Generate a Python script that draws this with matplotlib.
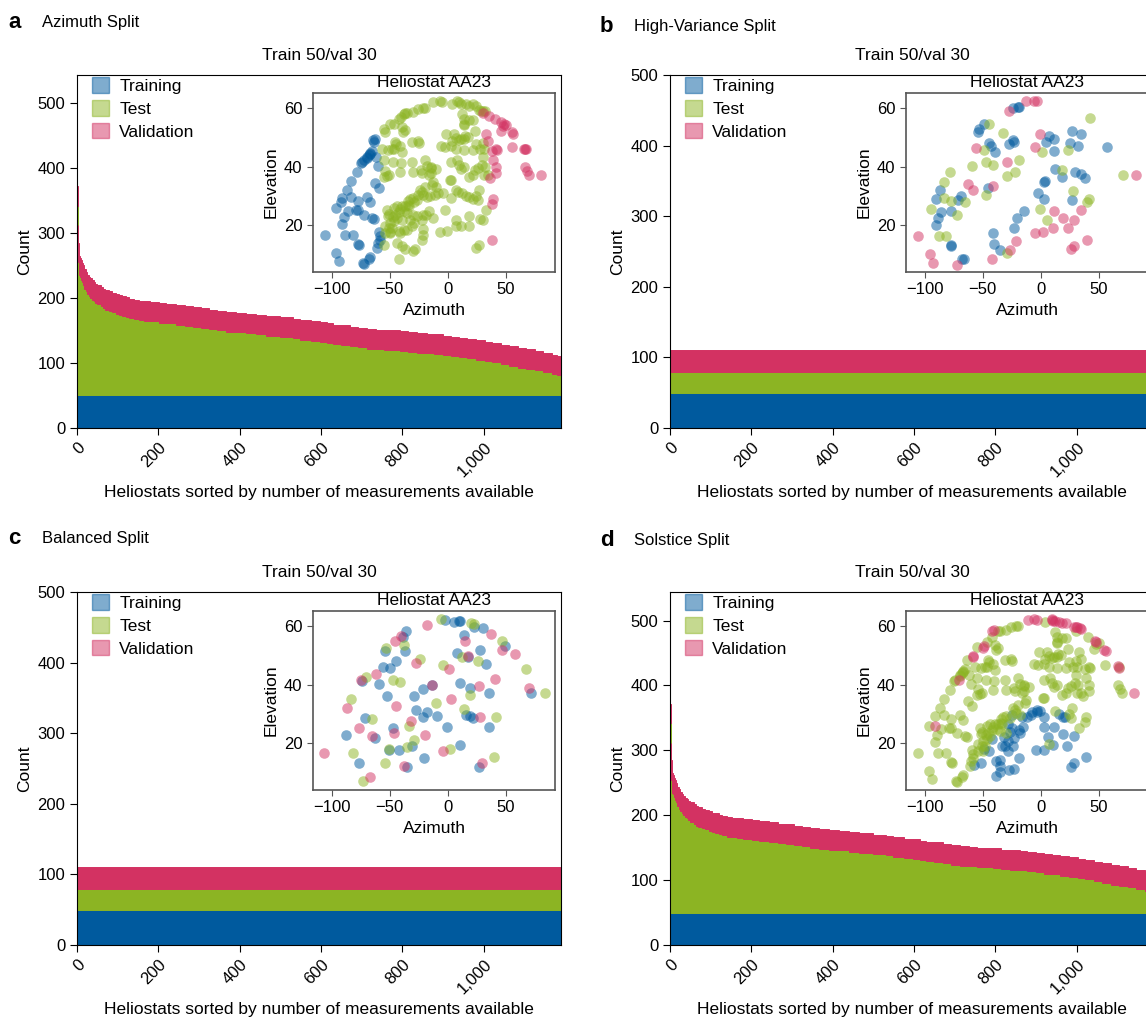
import numpy as np
import matplotlib
matplotlib.use('Agg')
import matplotlib.pyplot as plt
from matplotlib.patches import Patch
from matplotlib.ticker import FuncFormatter

plt.rcParams['font.family'] = ['Liberation Sans', 'DejaVu Sans']

BLUE = '#005a9e'
GREEN = '#8cb423'
RED = '#d33262'

n_heliostats = 1190
train_n = 50
val_n = 30

# sorted number of measurements per heliostat (start index of a step, total count)
step_start = [0, 1, 2, 3, 4, 6, 8, 10, 12, 14, 16, 18, 21, 25, 29, 33, 37, 41, 45, 50,
              58, 64, 70, 78, 86, 95, 103, 111, 120, 128, 140, 152, 165, 180, 202, 220, 243, 265, 284, 305,
              325, 345, 366, 390, 416, 440, 465, 500, 531, 548, 575, 597, 615, 630, 650, 672, 690, 713, 735, 754,
              795, 815, 837, 860, 878, 900, 919, 940, 960, 980, 1002, 1020, 1043, 1063, 1084, 1105, 1125, 1145, 1167, 1180]
step_total = [530, 372, 312, 285, 270, 265, 262, 258, 254, 250, 247, 244, 240, 236, 233, 230, 227, 225, 222, 220,
              217, 214, 212, 210, 208, 206, 204, 203, 201, 199, 197, 196, 195, 194, 192, 191, 189, 187, 186, 184,
              182, 180, 178, 177, 176, 174, 172, 170, 168, 166, 164, 163, 161, 159, 158, 156, 154, 152, 151, 150,
              149, 147, 146, 145, 144, 142, 140, 139, 137, 135, 133, 131, 128, 126, 123, 121, 119, 116, 113, 111]
# high-variance / balanced splits keep only 50 + 30 + 30 per heliostat
fixed_total = [110]

# inset points (azimuth, elevation) of heliostat AA23
a_train = [(-106, 16.5), (-96, 10.6), (-93.6, 7.6), (-96, 25.9), (-92, 27.8), (-90.7, 29.3), (-87, 32.1),
           (-83.6, 35.1), (-78.5, 38.3), (-75, 41.4), (-72, 42.3), (-69.4, 43.4), (-67, 44.3), (-65.7, 45.3),
           (-62.3, 49.4), (-61.8, 43.4), (-60, 40.2), (-91, 20.5), (-89, 22.8), (-86, 24.7), (-83.6, 29.6),
           (-77, 28.4), (-70, 29.8), (-66.6, 28.1), (-77, 25.3), (-72, 23.6), (-65, 22.4), (-63.7, 22.1),
           (-62.9, 34.4), (-59.5, 32.7), (-88.7, 16.5), (-82, 16.5), (-77.3, 13.7), (-76.5, 13.2), (-72, 6.7),
           (-68, 8.6), (-66.6, 9.2), (-59.5, 17.6), (-58.6, 16.3), (-58, 15.1), (-61, 12.1), (-66.6, 44.7),
           (-73.7, 41.7), (-64.3, 49), (-78.8, 25.1), (-64, 48.5), (-70, 43), (-68, 44), (-60, 14), (-73, 7.2)]
a_val = [(35.4, 57.5), (40.5, 56.4), (45.9, 55.3), (47.3, 53.9), (45.3, 52.2), (48.2, 54.7), (54.7, 51.9),
         (56.1, 51.1), (54.7, 46.8), (65.2, 46.2), (66.6, 45.9), (33.1, 51.3), (34.6, 48.8), (37.7, 45.3),
         (41.1, 46.2), (39.1, 42.3), (41.1, 39.8), (41.1, 38), (36, 36), (66.6, 40), (68, 38.6), (69.4, 37.2),
         (80.2, 37), (39.1, 28.9), (37.7, 27.3), (37.7, 15.1), (29.7, 58.4), (49.6, 54.1), (41.9, 45.6),
         (67.2, 46.2)]
a_test = [(-54.7, 53), (-53.8, 51.9), (-49.6, 54.7), (-46.7, 54.7), (-42.5, 56.4), (-40.2, 57), (-38.2, 58.1),
          (-36.8, 58.3), (-35.4, 58.4), (-29.7, 58.6), (-25.5, 59.8), (-21.2, 60.1), (-19.8, 60), (-12.7, 62),
          (-7.1, 62.3), (-4.8, 62), (3.7, 61.5), (7.6, 62.3), (9.5, 62), (10.8, 61.5), (15.6, 61.5), (17.8, 60.9),
          (21.2, 61.5), (24.1, 60.9), (26.9, 59.4), (29.7, 59.2), (32, 59.2), (28.3, 59),
          (-39.7, 53.6), (-38.8, 51.9), (-36.8, 52.4), (-45.3, 48.5), (-44.5, 47.9), (-41, 47), (-39.7, 45.1),
          (-56.7, 45.9), (-51.6, 45.6), (-48.2, 46.2), (-46.2, 45.9), (-54.7, 42.3), (-47.3, 41.7), (-40.2, 41.1),
          (-41, 38.3), (-54.4, 38.6), (-52.4, 36.8), (-51, 37.2), (-55.2, 36.6), (-31.2, 41.7), (-29.7, 38.3),
          (-23.5, 38.9), (-19.8, 42.3), (-18.4, 40.2), (-25.5, 48.8), (-24.6, 48.1), (-31.2, 48.5), (-22.1, 37.7),
          (-14.2, 38), (-16.1, 37), (-14.7, 39.4), (-14.2, 40), (-9.9, 39.1), (-5.7, 47), (-2, 51.1), (4.8, 51.3),
          (3.7, 48.7), (7.1, 49.8), (9.1, 49.3), (10.8, 49.6), (13.6, 49.4), (15, 50.4), (17, 50.2), (12.2, 57.9),
          (13.6, 56.4), (13.6, 54.7), (14.2, 54.4), (18.4, 55.8), (21.2, 56), (23.5, 52.2), (24.1, 47.9),
          (21.2, 45.6), (14.2, 45.6), (6.5, 46.2), (2.3, 47), (-2.8, 46.6), (7.6, 42.3), (9.3, 40.6), (14.2, 40),
          (11.3, 39.2), (17.8, 36.6), (21.2, 37.2), (23.5, 38.9), (25.5, 39.4), (29.2, 40.6), (29.7, 43.4),
          (31.2, 45.9), (30.3, 48.2), (27.8, 45.9), (32, 39.8), (34, 37.2), (30.6, 37.2), (1.4, 35.5), (2.3, 35.3),
          (2.3, 41.7),
          (-24.1, 32.1), (-22.7, 31.5), (-26.1, 30.4), (-29.7, 29.3), (-21.2, 30.4), (-18.4, 29.8), (-15.6, 30.1),
          (-11.3, 30.4), (-8.5, 31), (-4.2, 31), (-9.9, 33.2), (-13.3, 33.8), (-12.7, 34.9), (-19.8, 33.2),
          (2.8, 29.3), (6.5, 31.9), (8.5, 31.5), (12.2, 31), (15.6, 30.1), (18.4, 29.6), (21.2, 28.9), (24.1, 30.1),
          (26.9, 32.1), (25.5, 28.7), (32.6, 25.3), (29.7, 21.9),
          (-52.4, 25.3), (-51.8, 23.1), (-50.4, 24), (-46.7, 25.9), (-43.9, 26.4), (-41, 25.5), (-39.7, 26.6),
          (-36.8, 26.4), (-34.6, 27), (-33.1, 26.4), (-35.4, 24.2), (-38.2, 24.7), (-42.5, 24.4), (-45.3, 23.6),
          (-47.3, 22.8), (-43.9, 22.5), (-39.7, 21.9), (-46.7, 21.4), (-49.6, 20.8), (-53.8, 19.7), (-51, 19.1),
          (-48.2, 19.1), (-54.4, 17.4), (-49.6, 17.4), (-42.5, 18), (-38.2, 18.5), (-35.4, 18.3), (-31.2, 19.7),
          (-28.9, 20.8), (-32.6, 21.9), (-26.9, 23.1), (-29.7, 23.6), (-21.2, 23.6), (-19.3, 23.6), (-16.1, 24.7),
          (-34, 28.4), (-32.6, 28.9), (-28.9, 28.1), (-26.9, 28.7), (-41, 17.3), (-43.9, 14), (-39.7, 12.9),
          (-36.8, 12), (-29.7, 11.2), (-28.3, 12), (-42.5, 8.4), (-49.6, 17.6), (-55.2, 13.1), (-22.7, 15.1),
          (-7.1, 17.6), (-0.6, 18), (-2.8, 25.3), (7.1, 21.7), (7.1, 19.7), (18.4, 23.3), (10.8, 19.7), (18.4, 19.7),
          (27.5, 22.1), (24.1, 12.3), (26.9, 13.4), (-21.2, 16.8), (-22.7, 21.9), (-12.7, 22.3), (-21.2, 18.7)]

d_train = [(-57.7, 12.4), (-51.4, 13.2), (-44.5, 17.2), (-48.6, 18), (-39, 8.7), (-39, 13.8), (-35.4, 12.1),
           (-34.9, 14.4), (-33.5, 18.9), (-32.1, 22.1), (-30.8, 19.1), (-28.6, 17.2), (-27.2, 11), (-28, 20.6),
           (-26.6, 24), (-25.3, 25.1), (-23.9, 18.9), (-23.1, 21.7), (-28, 26.6), (-24.5, 29.6), (-19.2, 14.9),
           (-19.2, 24.6), (-18.4, 23.4), (-15.7, 25.7), (-16.2, 29.1), (-12.4, 29.1), (-8.8, 29.6), (-7.4, 30.8),
           (-3.3, 31.3), (-1.1, 31.1), (-3.3, 30.8), (3, 29.1), (2.2, 25.7), (6.3, 22.1), (10.4, 19.5), (11.3, 25.5),
           (-4.1, 17.8), (3, 17.8), (18.7, 23.1), (22.8, 18.9), (28.8, 22.3), (15.9, 29.9), (18.7, 29.1),
           (20.9, 28.9), (25.5, 11.9), (28.8, 13.2), (38.5, 15.2), (-42.3, 21.4), (-34.9, 10), (-23.4, 11.2)]
d_val = [(-90.7, 25.9), (-70.6, 41.5), (-58.8, 49.5), (-58.2, 49.7), (-48.6, 53.4), (-50, 52.5), (-40.4, 58.8),
         (-41.8, 58.3), (-11.5, 62.2), (-6, 62.3), (-3.3, 62.2), (9.1, 62.3), (10.4, 61.9), (12.4, 61.7),
         (15.9, 61.4), (17.9, 61), (21.4, 61), (28.3, 59.9), (31, 59.7), (33.2, 59.4), (34.3, 59.1), (46.2, 55.1),
         (47.5, 54.6), (54.4, 52), (56.3, 51.5), (66.2, 46.3), (67.3, 45.8), (79.7, 37.2), (9.1, 62), (30.2, 59.7)]

b_train = [(-24.2, 60.2), (-19.9, 60.3), (-18.5, 60.3), (-49, 54.6), (-53.3, 52.8), (-54.1, 51.7), (-45, 48.2),
           (-43.3, 47.2), (-39.3, 45.1), (-27.9, 47.7), (-24.2, 49.1), (-23.4, 48.3), (-45.6, 32.8), (-86.9, 32),
           (-90.6, 28.9), (-86, 24.6), (-88.3, 22.5), (-90.3, 20), (-76.9, 24.8), (-71.2, 28.6), (-68.9, 29.9),
           (-77.5, 13.1), (-76.9, 12.8), (-67.5, 8.3), (-66.1, 8.6), (-41.3, 17.5), (-40.7, 13.7), (-35.6, 11.4),
           (-23.6, 19.1), (-20.5, 22.5), (-14.8, 24.9), (-2.3, 30.9), (2.3, 28.8), (3.4, 35.1), (2.3, 34.9),
           (4.6, 48.6), (7.1, 50.6), (11.4, 49.5), (11.4, 45.5), (12.3, 39.2), (17.9, 36.6), (26.5, 52.2),
           (34.8, 51.3), (25.1, 48.2), (32.2, 47.2), (29.3, 38.3), (34.8, 37.4), (37.9, 36), (26.5, 28.6),
           (56.4, 46.6)]
b_val = [(-27.9, 58.9), (-12.8, 62.3), (-6.3, 62.6), (-3.4, 62.5), (-1.1, 51.1), (-4.8, 46.9), (-56.1, 46.3),
         (-29.3, 41.5), (-62.7, 34.1), (-58.4, 32), (-41.3, 33.4), (-105.4, 16.2), (-95.4, 10.1), (-93.2, 7.2),
         (-72.1, 6.3), (-42.2, 8.3), (-26.5, 11.4), (-21.1, 14.7), (-5.1, 17.5), (1.4, 17.7), (10.3, 19.2),
         (10.8, 24.9), (19.1, 22.6), (23.4, 18.9), (28.5, 21.9), (34.5, 25.1), (25.9, 11.8), (28.8, 12.9),
         (39.3, 14.9), (81.8, 37.1)]
b_test = [(-45, 54.6), (-32.8, 51.4), (-49.3, 45.7), (-47.3, 41.5), (-41, 40.6), (-18.8, 42.2), (-29.6, 36.8),
          (-21.9, 38.3), (-59.3, 40.2), (-78.3, 38.1), (-83.2, 34.9), (-83.2, 29.4), (-76.9, 28.2), (-65, 28),
          (-94.9, 25.7), (-72.1, 23.4), (-47.6, 30.3), (-87.5, 16.3), (-81.2, 16.3), (-29.1, 10.5), (0.9, 45.1),
          (23.6, 45.7), (17.7, 38.9), (27.9, 31.8), (-1.1, 25.5), (5.1, 21.7), (41.9, 56.6), (39.9, 28),
          (41.3, 28.8), (70.7, 37.1)]

c_train = [(-2.9, 62.1), (4.9, 61.6), (9.5, 61.8), (10.6, 61.8), (22.4, 59.9), (30.1, 59.5), (13.8, 57.1),
           (-35.8, 58.4), (-38.7, 56.4), (-53.9, 51.4), (-37.3, 51.4), (-45, 48.2), (-55.9, 46.2), (-49.6, 45.6),
           (-59.4, 40.3), (-73.7, 41.1), (-52.8, 36.3), (-71.7, 28.5), (-88, 22.7), (-63.1, 21.9), (-76.6, 13.2),
           (-47.3, 25.1), (-51, 17.7), (-41.9, 17.7), (-35, 11.8), (-30.7, 18.9), (-27.2, 31.5), (-21.5, 29),
           (-17.8, 30.5), (-9.2, 29.4), (-0.6, 25.6), (-20.6, 14.9), (-29.3, 36.2), (-21.5, 38.4), (-13.8, 39.8),
           (10, 40.6), (18.6, 38.9), (35, 37.3), (7.5, 50.7), (17.2, 49.4), (27.2, 52), (33, 47.1), (15.8, 29.6),
           (18.6, 29.3), (21.5, 28.5), (35, 25.4), (10.6, 19.4), (26.4, 11.9), (49.3, 53.2), (71.7, 37.3)]
c_val = [(-18.1, 60.3), (-40.7, 56.5), (-45.3, 54.8), (37.3, 57.5), (14.9, 55), (46.7, 52), (57.9, 50.5),
         (-27.2, 47.5), (1.1, 45.2), (17.2, 49.7), (-61.7, 43.5), (-74.6, 41.5), (40.7, 42), (69.7, 39),
         (26.7, 39.4), (-86.6, 32.2), (-45, 32.8), (-13.5, 39.8), (2.9, 35.1), (-31.5, 27.7), (-76.3, 25.1),
         (-65.4, 22.5), (-46.7, 23.4), (-20.1, 22.9), (27.5, 28.8), (-106.7, 16.6), (-4.6, 17.5), (-38.1, 12.1),
         (-66.8, 8.6), (29.5, 13.2)]
c_test = [(-6.3, 62.4), (20.1, 61), (22.1, 60.7), (46.7, 54.8), (-53, 52.4), (-38.1, 53.6), (-23.8, 48.8),
          (-4.3, 46.8), (12.3, 49.4), (25.8, 48.2), (67.4, 45.2), (-70.3, 42.8), (-47.3, 41.7), (-41, 40.8),
          (-83.2, 35), (18.6, 36.4), (-10, 33.6), (13.8, 31.6), (-65.4, 28.2), (-33.6, 25.9), (41.6, 29),
          (-29.5, 21.1), (-51, 18.1), (-35.6, 18.6), (1.7, 18), (-81.7, 16.6), (-54.2, 13.2), (39.6, 15.3),
          (-72.6, 7), (83.2, 37.2)]


def remaining(pool, taken):
    # measurements of AA23 not used for training/validation in the solstice split
    pool = list(pool)
    for az, el in taken:
        d = [(p[0] - az) ** 2 + (2.5 * (p[1] - el)) ** 2 for p in pool]
        pool.pop(int(np.argmin(d)))
    return pool


d_test = remaining(a_train + a_test + a_val, d_train + d_val)

W, H = 1146, 1017
fig = plt.figure(figsize=(W / 100, H / 100), dpi=100)


def px_rect(x0, y0, x1, y1):
    return [x0 / W, 1 - y1 / H, (x1 - x0) / W, (y1 - y0) / H]


def draw_panel(main_rect, inset_rect, starts, totals, ymax, yticks, pts):
    ax = fig.add_axes(main_rect)
    starts = np.array(starts)
    totals = np.array(totals)
    widths = np.diff(np.append(starts, n_heliostats))
    test = totals - train_n - val_n
    ax.bar(starts, train_n, width=widths, align='edge', color=BLUE, edgecolor=BLUE, linewidth=0.7)
    ax.bar(starts, test, width=widths, bottom=train_n, align='edge', color=GREEN, edgecolor=GREEN, linewidth=0.7)
    ax.bar(starts, val_n, width=widths, bottom=train_n + test, align='edge', color=RED, edgecolor=RED,
           linewidth=0.7)
    ax.set_xlim(0, n_heliostats)
    ax.set_ylim(0, ymax)
    ax.set_yticks(yticks)
    ax.set_xticks([0, 200, 400, 600, 800, 1000])
    ax.xaxis.set_major_formatter(FuncFormatter(lambda v, p: f'{int(v):,}'))
    ax.tick_params(axis='x', labelrotation=45, labelsize=12, length=5)
    ax.tick_params(axis='y', labelsize=12, length=5)
    for lab in ax.get_xticklabels():
        lab.set_ha('right')
        lab.set_rotation_mode('anchor')
    ax.set_xlabel('Heliostats sorted by number of measurements available', fontsize=12.5, labelpad=4)
    ax.set_ylabel('Count', fontsize=12.5)
    ax.set_title('Train 50/val 30', fontsize=12.5, pad=11)
    handles = [Patch(facecolor=c, alpha=0.5, edgecolor=c, label=l)
               for c, l in [(BLUE, 'Training'), (GREEN, 'Test'), (RED, 'Validation')]]
    ax.legend(handles=handles, loc='upper left', frameon=False, fontsize=12.5,
              handlelength=1.0, handleheight=1.0, handletextpad=0.6, labelspacing=0.35,
              borderaxespad=0.3, bbox_to_anchor=(0.005, 1.028))

    ins = fig.add_axes(inset_rect)
    for key, c in [('train', BLUE), ('test', GREEN), ('val', RED)]:
        arr = np.array(pts[key])
        ins.scatter(arr[:, 0], arr[:, 1], s=58, color=c, alpha=0.5, linewidths=0)
    ins.set_xlim(-116, 92)
    ins.set_ylim(4, 65.2)
    ins.set_xticks([-100, -50, 0, 50])
    ins.set_yticks([20, 40, 60])
    ins.tick_params(labelsize=12, length=4, color='#555555')
    for s in ins.spines.values():
        s.set_color('#555555')
        s.set_linewidth(1.2)
    ins.set_title('Heliostat AA23', fontsize=12.5, pad=4)
    ins.set_xlabel('Azimuth', fontsize=12.5)
    ins.set_ylabel('Elevation', fontsize=12.5)
    return ax


draw_panel(px_rect(77, 75, 561, 428), px_rect(313, 93, 555, 272), step_start, step_total, 543,
           [0, 100, 200, 300, 400, 500], {'train': a_train, 'test': a_test, 'val': a_val})
draw_panel(px_rect(670, 75, 1154, 428), px_rect(906, 93, 1148, 272), [0], fixed_total, 500,
           [0, 100, 200, 300, 400, 500], {'train': b_train, 'test': b_test, 'val': b_val})
draw_panel(px_rect(77, 592, 561, 945), px_rect(313, 611, 555, 790), [0], fixed_total, 500,
           [0, 100, 200, 300, 400, 500], {'train': c_train, 'test': c_test, 'val': c_val})
draw_panel(px_rect(670, 592, 1154, 945), px_rect(906, 611, 1148, 790), step_start, step_total, 544,
           [0, 100, 200, 300, 400, 500], {'train': d_train, 'test': d_test, 'val': d_val})

for letter, name, x, y in [('a', 'Azimuth Split', 8, 22), ('b', 'High-Variance Split', 600, 27),
                           ('c', 'Balanced Split', 8, 538), ('d', 'Solstice Split', 600, 541)]:
    fig.text(x / W, 1 - y / H, letter, fontsize=16, fontweight='bold', va='center', ha='left')
    fig.text((x + 34) / W, 1 - y / H, name, fontsize=12, va='center', ha='left')

fig.savefig('out.png', dpi=100)
